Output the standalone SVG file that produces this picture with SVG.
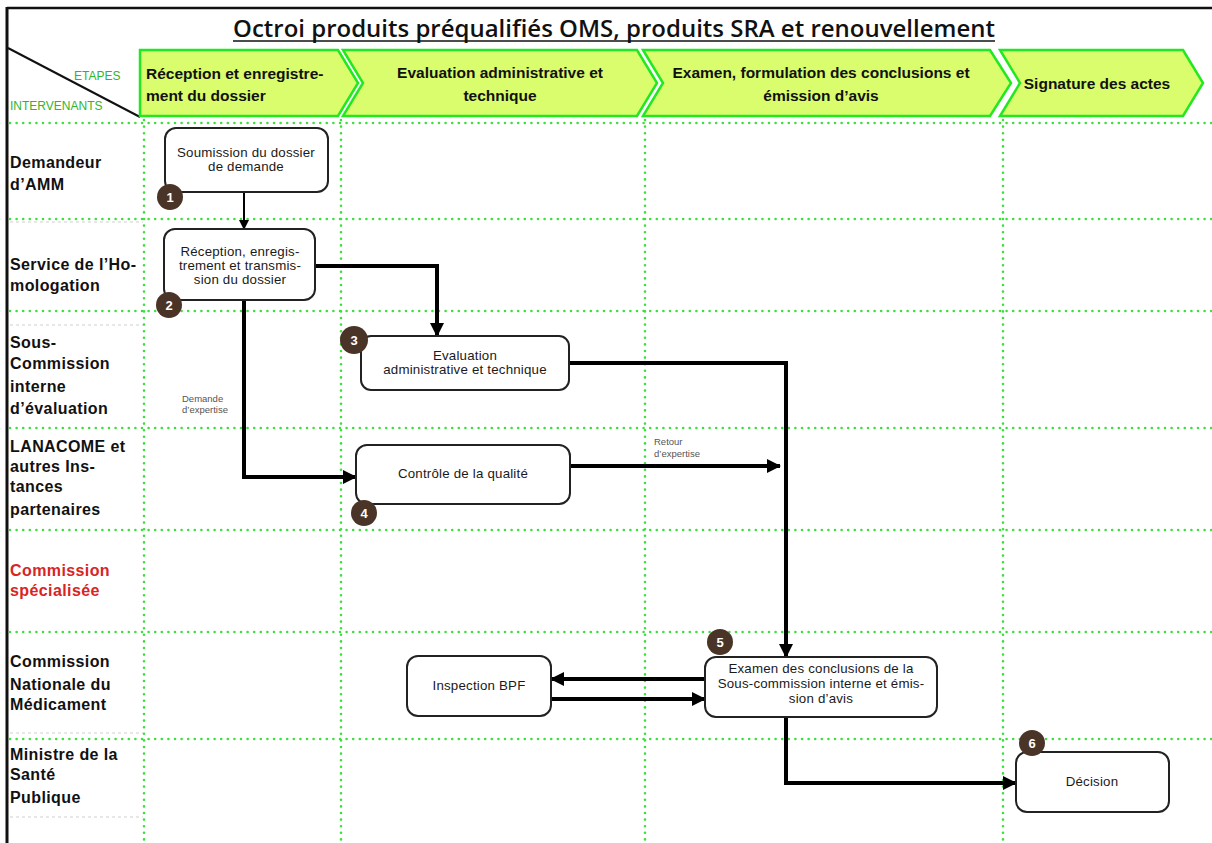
<svg xmlns="http://www.w3.org/2000/svg" width="1212" height="843" viewBox="0 0 1212 843">
<style>
.dot{stroke:#3be03b;stroke-width:2.6;stroke-dasharray:0 6.6;stroke-linecap:round;fill:none}
.faint{stroke:#cfcfcf;stroke-width:1;stroke-dasharray:3 3;fill:none}
.chev{fill:#d9fd6c;stroke:#22e822;stroke-width:2.5}
.ht{font-family:"Liberation Sans",Arial,sans-serif;font-weight:bold;font-size:15.5px;fill:#111}
.lab{font-family:"Liberation Sans",Arial,sans-serif;font-weight:bold;font-size:16px;fill:#111;letter-spacing:0.4px}
.box{fill:#fff;stroke:#222;stroke-width:2}
.nt{font-family:"Liberation Sans",Arial,sans-serif;font-size:13.3px;fill:#1a1a1a;text-anchor:middle;letter-spacing:0.2px}
.num{fill:#4a3427}
.nn{font-family:"Liberation Sans",Arial,sans-serif;font-weight:bold;font-size:13px;fill:#fff;text-anchor:middle}
.thick{stroke:#000;stroke-width:4;fill:none}
.thin{stroke:#000;stroke-width:2;fill:none}
.small{font-family:"Liberation Sans",Arial,sans-serif;font-size:9.5px;fill:#555}
.green{font-family:"Liberation Sans",Arial,sans-serif;font-size:12px;fill:#2fb52f}
</style>
<defs>
<marker id="ah" markerUnits="userSpaceOnUse" markerWidth="14" markerHeight="14" refX="13" refY="7" orient="auto">
<path d="M0,0 L14,7 L0,14 z" fill="#000"/>
</marker>
<marker id="ahs" markerUnits="userSpaceOnUse" markerWidth="10" markerHeight="10" refX="9" refY="5" orient="auto">
<path d="M0,0 L10,5 L0,10 z" fill="#000"/>
</marker>
</defs>
<rect x="0" y="0" width="1212" height="843" fill="#fff"/>
<g id="frame">
<line x1="7" y1="8" x2="1212" y2="8" stroke="#111" stroke-width="2.5"/>
<line x1="7" y1="7" x2="7" y2="843" stroke="#111" stroke-width="3"/>
<line x1="8" y1="48" x2="140" y2="117" stroke="#111" stroke-width="2"/>
</g>
<g id="title">
<text x="614" y="37" text-anchor="middle" font-family="'Open Sans','Liberation Sans',sans-serif" font-size="23px" font-weight="600" fill="#111" textLength="762" lengthAdjust="spacingAndGlyphs">Octroi produits préqualifiés OMS, produits SRA et renouvellement</text>
<line x1="233" y1="41" x2="995" y2="41" stroke="#111" stroke-width="1.6"/>
</g>
<g id="header-labels">
<text class="green" x="74" y="80">ETAPES</text>
<text class="green" x="10" y="110">INTERVENANTS</text>
</g>
<g id="grid">
<line class="dot" x1="10" y1="123" x2="1212" y2="123"/>
<line class="dot" x1="10" y1="219" x2="1212" y2="219"/>
<line class="dot" x1="10" y1="311" x2="1212" y2="311"/>
<line class="dot" x1="10" y1="428" x2="1212" y2="428"/>
<line class="dot" x1="10" y1="530" x2="1212" y2="530"/>
<line class="dot" x1="10" y1="632" x2="1212" y2="632"/>
<line class="dot" x1="10" y1="739" x2="1212" y2="739"/>
<line class="dot" x1="144" y1="120" x2="144" y2="843"/>
<line class="dot" x1="341" y1="120" x2="341" y2="843"/>
<line class="dot" x1="645" y1="120" x2="645" y2="843"/>
<line class="dot" x1="1003" y1="120" x2="1003" y2="843"/>
<line class="faint" x1="10" y1="222" x2="143" y2="222"/>
<line class="faint" x1="10" y1="325" x2="143" y2="325"/>
<line class="faint" x1="10" y1="733" x2="143" y2="733"/>
<line class="faint" x1="10" y1="817" x2="143" y2="817"/>
</g>
<g id="stage1">
<path class="chev" d="M140,50 H338 L358,83 L338,116 H140 Z"/>
<text class="ht" x="146" y="79">Réception et enregistre-</text>
<text class="ht" x="146" y="101">ment du dossier</text>
</g>
<g id="stage2">
<path class="chev" d="M343,50 H637 L657,83 L637,116 H343 L363,83 Z"/>
<text class="ht" x="500" y="78" text-anchor="middle">Evaluation administrative et</text>
<text class="ht" x="500" y="101" text-anchor="middle">technique</text>
</g>
<g id="stage3">
<path class="chev" d="M643,50 H990 L1011,83 L990,116 H643 L663,83 Z"/>
<text class="ht" x="821" y="78" text-anchor="middle">Examen, formulation des conclusions et</text>
<text class="ht" x="821" y="101" text-anchor="middle">émission d’avis</text>
</g>
<g id="stage4">
<path class="chev" d="M1000,50 H1183 L1203,83 L1183,116 H1000 L1020,83 Z"/>
<text class="ht" x="1097" y="89" text-anchor="middle">Signature des actes</text>
</g>
<g id="lane1"><text class="lab" x="10" y="168">Demandeur</text><text class="lab" x="10" y="190">d’AMM</text></g>
<g id="lane2"><text class="lab" x="10" y="270">Service de l’Ho-</text><text class="lab" x="10" y="291">mologation</text></g>
<g id="lane3"><text class="lab" x="10" y="348">Sous-</text><text class="lab" x="10" y="369">Commission</text><text class="lab" x="10" y="392">interne</text><text class="lab" x="10" y="414">d’évaluation</text></g>
<g id="lane4"><text class="lab" x="10" y="452">LANACOME et</text><text class="lab" x="10" y="472">autres Ins-</text><text class="lab" x="10" y="492">tances</text><text class="lab" x="10" y="515">partenaires</text></g>
<g id="lane5"><text class="lab" x="10" y="576" style="fill:#d92424">Commission</text><text class="lab" x="10" y="596" style="fill:#d92424">spécialisée</text></g>
<g id="lane6"><text class="lab" x="10" y="667">Commission</text><text class="lab" x="10" y="690">Nationale du</text><text class="lab" x="10" y="710">Médicament</text></g>
<g id="lane7"><text class="lab" x="10" y="760">Ministre de la</text><text class="lab" x="10" y="780">Santé</text><text class="lab" x="10" y="803">Publique</text></g>
<g id="connectors">
<path class="thin" d="M244,192 V229" marker-end="url(#ahs)"/>
<path class="thick" d="M315,266 H437 V336" marker-end="url(#ah)"/>
<path class="thick" d="M244,300 V477 H356" marker-end="url(#ah)"/>
<path class="thick" d="M569,363 H786 V657" marker-end="url(#ah)"/>
<path class="thick" d="M570,466 H780" marker-end="url(#ah)"/>
<path class="thick" d="M705,679 H551" marker-end="url(#ah)"/>
<path class="thick" d="M551,699 H705" marker-end="url(#ah)"/>
<path class="thick" d="M786,717 V783 H1016" marker-end="url(#ah)"/>
<text class="small" x="182" y="402">Demande</text>
<text class="small" x="182" y="413">d’expertise</text>
<text class="small" x="654" y="445">Retour</text>
<text class="small" x="654" y="457">d’expertise</text>
</g>
<g id="n1">
<rect class="box" x="165" y="128" width="163" height="64" rx="11"/>
<text class="nt" x="246" y="157">Soumission du dossier</text>
<text class="nt" x="246" y="171">de demande</text>
<circle class="num" cx="170" cy="197" r="13"/><text class="nn" x="170" y="202">1</text>
</g>
<g id="n2">
<rect class="box" x="164" y="229" width="151" height="71" rx="11"/>
<text class="nt" x="240" y="256">Réception, enregis-</text>
<text class="nt" x="240" y="270">trement et transmis-</text>
<text class="nt" x="240" y="284">sion du dossier</text>
<circle class="num" cx="169" cy="305" r="13"/><text class="nn" x="169" y="310">2</text>
</g>
<g id="n3">
<rect class="box" x="361" y="336" width="208" height="54" rx="10"/>
<text class="nt" x="465" y="360">Evaluation</text>
<text class="nt" x="465" y="374">administrative et technique</text>
<circle class="num" cx="354" cy="340" r="14"/><text class="nn" x="354" y="345">3</text>
</g>
<g id="n4">
<rect class="box" x="356" y="445" width="214" height="59" rx="11"/>
<text class="nt" x="463" y="478">Contrôle de la qualité</text>
<circle class="num" cx="364" cy="513" r="13"/><text class="nn" x="364" y="518">4</text>
</g>
<g id="n5">
<rect class="box" x="705" y="657" width="232" height="60" rx="11"/>
<text class="nt" x="821" y="673">Examen des conclusions de la</text>
<text class="nt" x="821" y="688">Sous-commission interne et émis-</text>
<text class="nt" x="821" y="703">sion d’avis</text>
<circle class="num" cx="720" cy="642" r="13"/><text class="nn" x="720" y="647">5</text>
</g>
<g id="n6">
<rect class="box" x="407" y="656" width="144" height="60" rx="11"/>
<text class="nt" x="479" y="690">Inspection BPF</text>
</g>
<g id="n7">
<rect class="box" x="1016" y="752" width="153" height="60" rx="11"/>
<text class="nt" x="1092" y="786">Décision</text>
<circle class="num" cx="1032" cy="743" r="13"/><text class="nn" x="1032" y="748">6</text>
</g>
</svg>
